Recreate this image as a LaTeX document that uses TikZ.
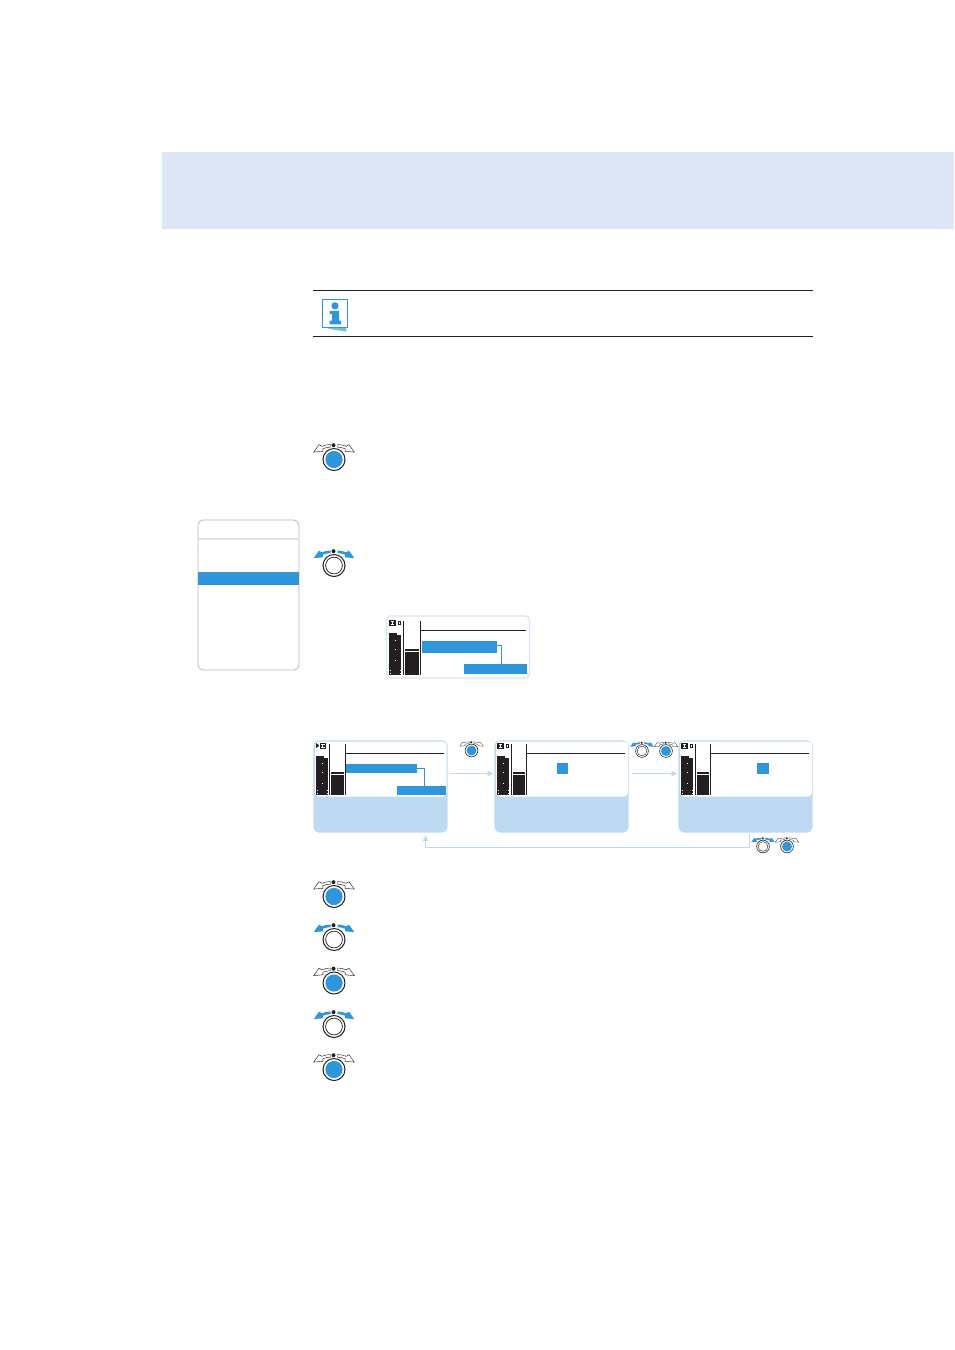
\documentclass[tikz,border=0pt]{standalone}
\usetikzlibrary{arrows.meta,positioning}
\definecolor{hdr}{HTML}{DEE7F5}
\definecolor{blu}{HTML}{2F96DC}
\definecolor{lite}{HTML}{BDDAF2}
\definecolor{edge}{HTML}{D5E6F6}
\definecolor{blk}{HTML}{231F20}
\tikzset{
  panel/.style={draw=lite,line width=1.2pt,fill=lite,rounded corners=5pt,inner sep=0pt,outer sep=0pt},
  lcdpane/.style={draw=edge,line width=1.2pt,fill=white,rounded corners=4pt,inner sep=0pt,outer sep=0pt},
  flow/.style={draw=lite,line width=0.8pt,-{Latex[length=6pt,width=6pt]}},
  rulethin/.style={draw=blk,line width=0.8pt},
  barfill/.style={fill=blu,draw=none},
  link/.style={draw=blu,line width=0.8pt},
}
% small I-in-a-box glyph
\newcommand{\iconbox}[2]{%
  \fill[blk] (#1,#2) rectangle (#1+6.8,#2+5.6);
  \fill[white] (#1+1.5,#2+1) rectangle (#1+5.3,#2+1.9);
  \fill[white] (#1+2.9,#2+1.9) rectangle (#1+3.9,#2+3.7);
  \fill[white] (#1+1.5,#2+3.7) rectangle (#1+5.3,#2+4.6);
}
% #1 x of first bar, #2 y top of bars, #3 x of second rule, #4 right end of hline, #5 y bottom, #6 y rule top, #7 offset of first rule
\newcommand{\lcdbase}[7]{%
  \fill[blk] (#1,#2+1) rectangle (#1+8,#5);
  \fill[blk] (#1+2,#2+3) rectangle (#1+12,#5);
  \foreach \yy in {8,17,28}{\fill[white] (#1+5.5,#2+\yy) rectangle +(1,1);}
  \fill[white] (#1+1,#5-5) rectangle +(1,1);
  \fill[white] (#1+1,#5-2) rectangle +(1,1);
  \fill[white] (#1+10.5,#5-5) rectangle +(1,1);
  \fill[white] (#1+10.5,#5-2) rectangle +(1,1);
  \draw[rulethin] (#1+#7,#6) -- (#1+#7,#5);
  \fill[blk] (#1+#7+1.5,#2+17) rectangle (#3-1.5,#5);
  \draw[white,line width=.8pt] (#1+#7+1.5,#2+19) -- (#3-1.5,#2+19);
  \draw[rulethin] (#3,#6) -- (#3,#5);
  \draw[rulethin] (#3,#6+9.5) -- (#4,#6+9.5);
}
\newcommand{\lcd}[6]{%
  \lcdbase{#1}{#2}{#3}{#4}{#5}{#6}{14}
  \iconbox{#1}{#6-1}
  \draw[blk,line width=.6pt] (#1+8.8,#6+.3) rectangle (#1+11.2,#6+3.6);
}
\newcommand{\arrowshape}{(-3.5,-15) .. controls (-7,-15) and (-10,-14.2) .. (-12,-13.2) -- (-15,-14.8) -- (-20.3,-7.4) -- (-11,-8.2) -- (-11.2,-10.8) .. controls (-9,-11.6) and (-6.5,-12.2) .. (-3.5,-12.4) -- cycle}
\newcommand{\knobout}[3]{%
  \begin{scope}[shift={(#1,#2)},scale=#3]
    \draw[blk,line width=#3*0.45pt,fill=white] \arrowshape;
    \begin{scope}[xscale=-1]\draw[blk,line width=#3*0.45pt,fill=white] \arrowshape;\end{scope}
    \fill[blk] (-.5,-14.3) circle (2);
    \draw[blk,line width=#3*1pt,fill=white] (0,0) circle (11);
    \fill[blu] (0,0) circle (8.6);
  \end{scope}}
\newcommand{\knobturn}[3]{%
  \begin{scope}[shift={(#1,#2)},scale=#3]
    \fill[blu] \arrowshape;
    \begin{scope}[xscale=-1]\fill[blu] \arrowshape;\end{scope}
    \fill[blk] (-.5,-14.3) circle (2);
    \draw[blk,line width=#3*1pt,fill=white] (0,0) circle (11);
    \draw[blk,line width=#3*0.7pt] (0,0) circle (8.4);
  \end{scope}}
\begin{document}
\begin{tikzpicture}[x=1pt,y=-1pt]
\useasboundingbox (0,0) rectangle (954,1350);
\fill[white] (0,0) rectangle (954,1350);
\fill[hdr] (162,152) rectangle (954,229);
% info
\draw[blk,line width=.9pt] (313,290.5) -- (813,290.5);
\draw[blk,line width=.9pt] (313,336.5) -- (813,336.5);
\fill[blu!65] (322,327) -- (346,328) -- (346.5,331.5) -- (335,330) -- cycle;
\draw[blu,line width=1pt,fill=white] (322.5,299.5) rectangle (347,327.5);
\fill[blu] (335,305.8) circle (3.6);
\fill[blu] (329.5,311) -- (339,311) -- (339,320.5) -- (341,320.5) -- (341,324.3) -- (329.5,324.3) -- (329.5,320.5) -- (332,320.5) -- (332,314) -- (329.5,314) -- cycle;
% menu
\node[draw=black!28,line width=.8pt,rounded corners=5pt,fill=white,minimum width=101pt,minimum height=150pt,inner sep=0pt] (menu) at (248.5,595) {};
\draw[black!12,line width=1.2pt] (198,539) -- (299,539);
\fill[blu] (198,572) rectangle (299,585);
% knobs
\knobout{334}{459.5}{1}
\knobturn{334}{565.5}{1}
\knobout{334}{896.5}{1}
\knobturn{334}{939.5}{1}
\knobout{334}{983}{1}
\knobturn{334}{1026.5}{1}
\knobout{334}{1069.5}{1}
\knobout{471.5}{750.5}{.58}
\knobturn{642}{751}{.58}
\knobout{666}{751}{.58}
\knobturn{763}{846.5}{.58}
\knobout{787}{846.5}{.58}
% standalone screen
\node[lcdpane,minimum width=143pt,minimum height=62pt] (shot) at (458,647) {};
\lcd{389}{632}{420.5}{526}{675}{621}
\fill[barfill] (421.5,641) rectangle (497,653);
\fill[barfill] (464,664) rectangle (527,674);
\draw[link] (497,645.5) -- (501.5,645.5) -- (501.5,664);
% flow panels
\node[panel,minimum width=133pt,minimum height=91pt] (s1) at (380.5,786.5) {};
\node[panel,minimum width=133pt,minimum height=91pt] (s2) at (561.5,786.5) {};
\node[panel,minimum width=133pt,minimum height=91pt] (s3) at (745.5,786.5) {};
\fill[white,rounded corners=4pt] (315,741.5) rectangle (446.5,796.5);
\fill[white,rounded corners=4pt] (496,741.5) rectangle (628,796.5);
\fill[white,rounded corners=4pt] (680,741.5) rectangle (812,796.5);
\lcdbase{316}{755}{345.5}{444}{794.5}{744}{13.3}
\fill[blk] (316,743) -- (319.3,745.6) -- (316,748.2) -- cycle;
\iconbox{319.5}{743}
\lcd{497}{755}{526.5}{625}{794.5}{744}
\lcd{681}{755}{710.5}{809}{794.5}{744}
\fill[barfill] (346,764) rectangle (417,773);
\fill[barfill] (397,786) rectangle (446,795);
\draw[link] (417,768.5) -- (424.5,768.5) -- (424.5,786);
\fill[barfill] (557,763) rectangle (568,774);
\fill[barfill] (757,763) rectangle (769,774);
% connectors
\coordinate (a1) at (450,773.5);
\coordinate (a2) at (493.5,773.5);
\coordinate (b1) at (632,773.5);
\coordinate (b2) at (677.5,773.5);
\coordinate (c1) at (749,834);
\coordinate (c2) at (749,847.5);
\coordinate (c3) at (425.5,847.5);
\coordinate (c4) at (425.5,835);
\draw[flow] (a1) -- (a2);
\draw[flow] (b1) -- (b2);
\draw[flow] (c1) -- (c2) -- (c3) -- (c4);
\end{tikzpicture}
\end{document}
